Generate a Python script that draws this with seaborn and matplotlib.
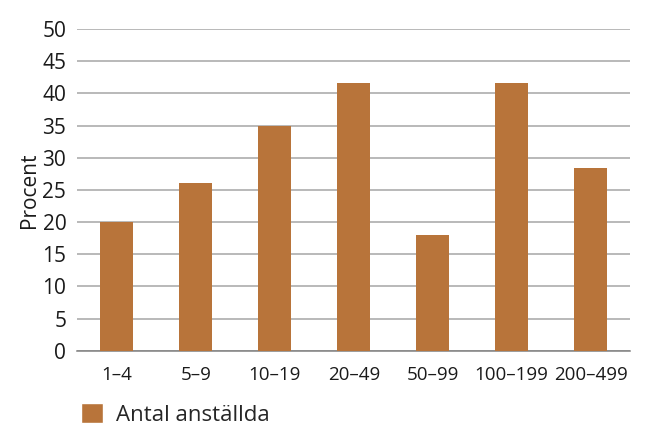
import pandas as pd
import matplotlib
matplotlib.use("Agg")
import matplotlib.pyplot as plt
import seaborn as sns
from matplotlib.patches import Patch

# --------------------------------------------------
# Data
# --------------------------------------------------

categories = ['1–4', '5–9', '10–19', '20–49', '50–99', '100–199', '200–499']
values = [20.0, 26.1, 35.0, 41.6, 18.0, 41.6, 28.4]
series_name = 'Antal anställda'
y_ticks = [0, 5, 10, 15, 20, 25, 30, 35, 40, 45, 50]

df = pd.DataFrame({'Storlek': categories, 'Procent': values})

bar_color = '#B8743A'

# --------------------------------------------------
# Plot
# --------------------------------------------------

sns.set_style('white')
plt.rcParams['font.family'] = ['Open Sans', 'DejaVu Sans']

fig, ax = plt.subplots(figsize=(6.45, 4.33), dpi=100)
fig.subplots_adjust(left=0.12, right=0.977, top=0.933, bottom=0.19)

sns.barplot(data=df, x='Storlek', y='Procent', color=bar_color,
            width=0.42, saturation=1, linewidth=0, ax=ax, zorder=3)

ax.set_ylim(0, 50)
ax.set_yticks(y_ticks)
ax.yaxis.grid(True, color='#a6a6a6', linewidth=1.1, zorder=0)
ax.set_axisbelow(True)
for s in ['top', 'right', 'left']:
    ax.spines[s].set_visible(False)
ax.spines['bottom'].set_color('#808080')
ax.spines['bottom'].set_linewidth(1.1)

ax.tick_params(axis='y', length=0, labelsize=15, colors='#1a1a1a', pad=8)
ax.tick_params(axis='x', length=0, labelsize=13.5, colors='#1a1a1a', pad=11)
ax.set_xlabel('')
ax.set_ylabel('Procent', fontsize=15, color='#1a1a1a', labelpad=2)

fig.legend(handles=[Patch(facecolor=bar_color, label=series_name)],
           loc='lower left', bbox_to_anchor=(0.095, -0.03), frameon=False,
           fontsize=16, handlelength=1.0, handleheight=1.0, handletextpad=0.55)

fig.savefig('out.png', dpi=100)
